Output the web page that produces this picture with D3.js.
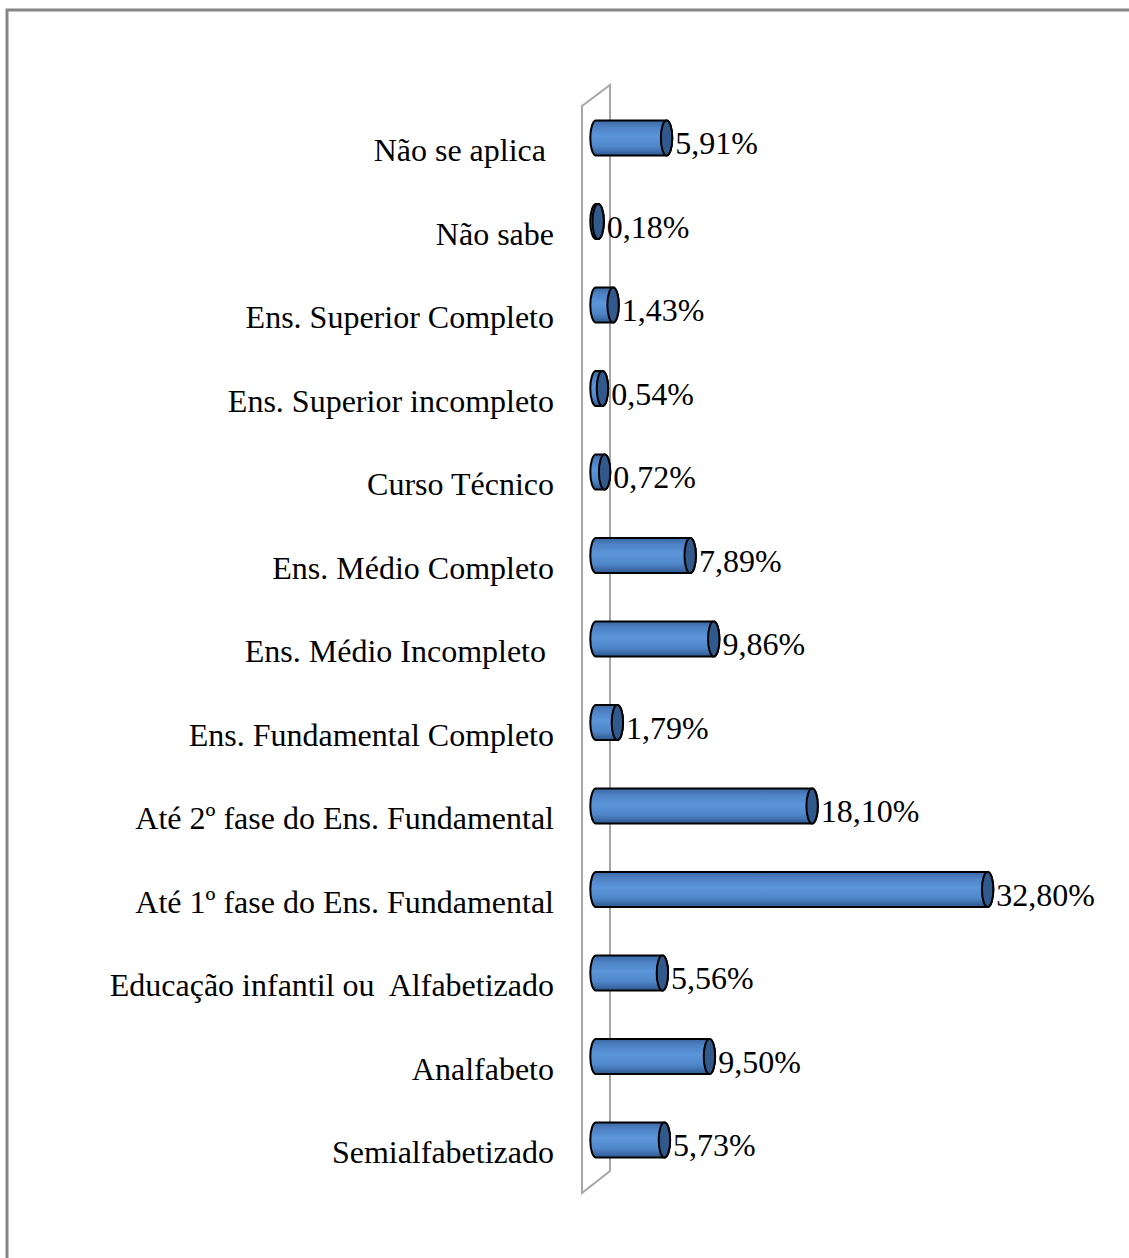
<!DOCTYPE html>
<html>
<head>
<meta charset="utf-8">
<script src="https://cdn.jsdelivr.net/npm/d3@7"></script>
<style>
html,body{margin:0;padding:0;background:#fff;}
svg{display:block;}
</style>
</head>
<body>
<svg id="chart" width="1129" height="1258"></svg>
<script>
const categories = [
  "Não se aplica ",
  "Não sabe",
  "Ens. Superior Completo",
  "Ens. Superior incompleto",
  "Curso Técnico",
  "Ens. Médio Completo",
  "Ens. Médio Incompleto ",
  "Ens. Fundamental Completo",
  "Até 2º fase do Ens. Fundamental",
  "Até 1º fase do Ens. Fundamental",
  "Educação infantil ou  Alfabetizado",
  "Analfabeto",
  "Semialfabetizado"
];
const values = [5.91, 0.18, 1.43, 0.54, 0.72, 7.89, 9.86, 1.79, 18.10, 32.80, 5.56, 9.50, 5.73];

const svg = d3.select("#chart");
const W = 1129, H = 1258;

const locale = d3.formatLocale({decimal: ",", thousands: ".", grouping: [3], currency: ["", ""]});
const fmt = v => locale.format(".2f")(v) + "%";

const x = d3.scaleLinear().domain([0, 35]).range([596, 596 + 11.94 * 35]);
const y = d3.scalePoint().domain(categories).range([138, 1140]);

const defs = svg.append("defs");
const grad = defs.append("linearGradient").attr("id", "barGrad")
  .attr("x1", 0).attr("y1", 0).attr("x2", 0).attr("y2", 1);
grad.append("stop").attr("offset", "0%").attr("stop-color", "#3b67a2");
grad.append("stop").attr("offset", "18%").attr("stop-color", "#4d82c4");
grad.append("stop").attr("offset", "45%").attr("stop-color", "#5c95da");
grad.append("stop").attr("offset", "75%").attr("stop-color", "#4f86c8");
grad.append("stop").attr("offset", "100%").attr("stop-color", "#2d5890");

// outer frame (top and left edges visible)
svg.append("path")
  .attr("d", `M7,${H} L7,10 L${W},10`)
  .attr("fill", "none").attr("stroke", "#868686").attr("stroke-width", 3);

// back wall (3D axis plane)
const wallL = 582, wallR = 610;
svg.append("path")
  .attr("d", `M${wallL},1193 L${wallL},106 L${wallR},85 L${wallR},1171 Z`)
  .attr("fill", "#fff").attr("stroke", "#a6a6a6").attr("stroke-width", 2);

const FONT = "'Liberation Serif','Times New Roman',serif";
const FS = 32;

// category labels
svg.append("g").selectAll("text").data(categories).join("text")
  .attr("x", 554)
  .attr("y", d => y(d) + 23)
  .attr("text-anchor", "end")
  .attr("xml:space", "preserve")
  .style("white-space", "pre")
  .attr("font-family", FONT)
  .attr("font-size", FS)
  .attr("fill", "#000")
  .text(d => d);

const bh = 35, rx = 5.7, ry = bh / 2;
const bars = svg.append("g").selectAll("g").data(categories).join("g");

bars.append("path")
  .attr("d", (d, i) => {
    const x0 = x(0), x1 = x(values[i]), cy = y(d);
    return `M${x0},${cy - ry} L${x1},${cy - ry} A${rx},${ry} 0 0 1 ${x1},${cy + ry} L${x0},${cy + ry} A${rx},${ry} 0 0 1 ${x0},${cy - ry} Z`;
  })
  .attr("fill", "url(#barGrad)")
  .attr("stroke", "#000").attr("stroke-width", 2);

bars.append("ellipse")
  .attr("cx", (d, i) => x(values[i]))
  .attr("cy", d => y(d))
  .attr("rx", rx).attr("ry", ry)
  .attr("fill", "#31598c")
  .attr("stroke", "#000").attr("stroke-width", 2);

bars.append("text")
  .attr("x", (d, i) => x(values[i]) + rx + 3)
  .attr("y", d => y(d) + 16)
  .attr("font-family", FONT)
  .attr("font-size", FS)
  .attr("fill", "#000")
  .text((d, i) => fmt(values[i]));
</script>
</body>
</html>
